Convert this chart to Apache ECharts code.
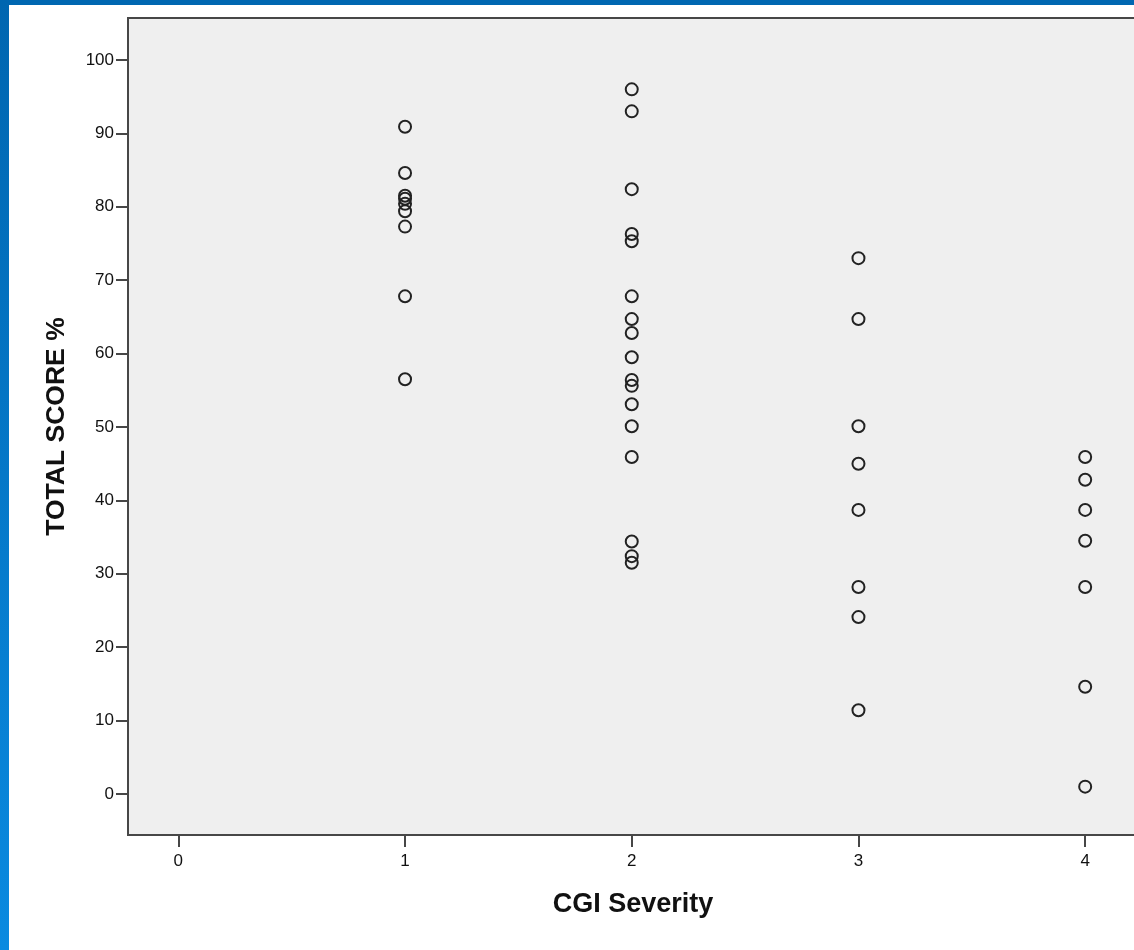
<!DOCTYPE html>
<html>
<head>
<meta charset="utf-8">
<script src="https://cdn.jsdelivr.net/npm/echarts@6/dist/echarts.min.js"></script>
<style>
html,body{margin:0;padding:0;background:#fff;overflow:hidden;width:1134px;height:950px;}
#c{width:1160px;height:950px;}
</style>
</head>
<body>
<div id="c"></div>
<script>
// CGI Severity categories and TOTAL SCORE % values
const sev1 = [90.9, 84.6, 81.5, 81.1, 80.4, 79.4, 77.3, 67.8, 56.5];
const sev2 = [96.0, 93.0, 82.4, 76.3, 75.3, 67.8, 64.7, 62.8, 59.5, 56.4, 55.6, 53.1, 50.1, 45.9, 34.4, 32.4, 31.5];
const sev3 = [73.0, 64.7, 50.1, 45.0, 38.7, 28.2, 24.1, 11.4];
const sev4 = [45.9, 42.8, 38.7, 34.5, 28.2, 14.6, 1.0];
const xTicks = [0, 1, 2, 3, 4];
const yTicks = [0, 10, 20, 30, 40, 50, 60, 70, 80, 90, 100];
const xTitle = 'CGI Severity';
const yTitle = 'TOTAL SCORE %';

const data = [];
[[1, sev1], [2, sev2], [3, sev3], [4, sev4]].forEach(([x, arr]) => arr.forEach(v => data.push([x, v])));

const chart = echarts.init(document.getElementById('c'), null, {renderer: 'canvas'});
const axisCol = '#474747';
const font = '"Liberation Sans", Arial, sans-serif';
chart.setOption({
  animation: false,
  backgroundColor: '#ffffff',
  grid: {
    left: 128, top: 18, width: 1010, bottom: 115, outerBoundsMode: 'none',
    show: true, backgroundColor: '#efefef', borderColor: axisCol, borderWidth: 2
  },
  xAxis: {
    type: 'value', min: -0.222, max: 4.233,
    name: xTitle, nameLocation: 'middle', nameGap: 56,
    nameTextStyle: {fontFamily: font, fontWeight: 'bold', fontSize: 27, color: '#111'},
    axisLine: {show: true, onZero: false, lineStyle: {color: axisCol, width: 2}},
    axisTick: {show: true, length: 12, lineStyle: {color: axisCol, width: 2}, customValues: xTicks},
    axisLabel: {fontFamily: font, fontSize: 17, color: '#111', margin: 18, customValues: xTicks},
    splitLine: {show: false}
  },
  yAxis: {
    type: 'value', min: -5.59, max: 105.72,
    name: yTitle, nameLocation: 'middle', nameGap: 58, nameRotate: 90,
    nameTextStyle: {fontFamily: font, fontWeight: 'bold', fontSize: 26.5, color: '#111'},
    axisLine: {show: true, onZero: false, lineStyle: {color: axisCol, width: 2}},
    axisTick: {show: true, length: 12, lineStyle: {color: axisCol, width: 2}, customValues: yTicks},
    axisLabel: {fontFamily: font, fontSize: 17, color: '#111', margin: 14, customValues: yTicks},
    splitLine: {show: false}
  },
  series: [{
    type: 'scatter',
    data: data,
    symbol: 'circle',
    symbolSize: 12,
    itemStyle: {color: 'rgba(0,0,0,0)', borderColor: '#222', borderWidth: 2, opacity: 1},
    emphasis: {disabled: true}
  }],
  graphic: [
    {type: 'rect', left: 0, top: 0, shape: {width: 1160, height: 5}, style: {fill: '#0067b1'}, z: 100},
    {type: 'rect', left: 0, top: 0, shape: {width: 9, height: 950},
     style: {fill: new echarts.graphic.LinearGradient(0, 0, 0, 1, [{offset: 0, color: '#0066b0'}, {offset: 1, color: '#0a8ae0'}])}, z: 100}
  ]
});
</script>
</body>
</html>
